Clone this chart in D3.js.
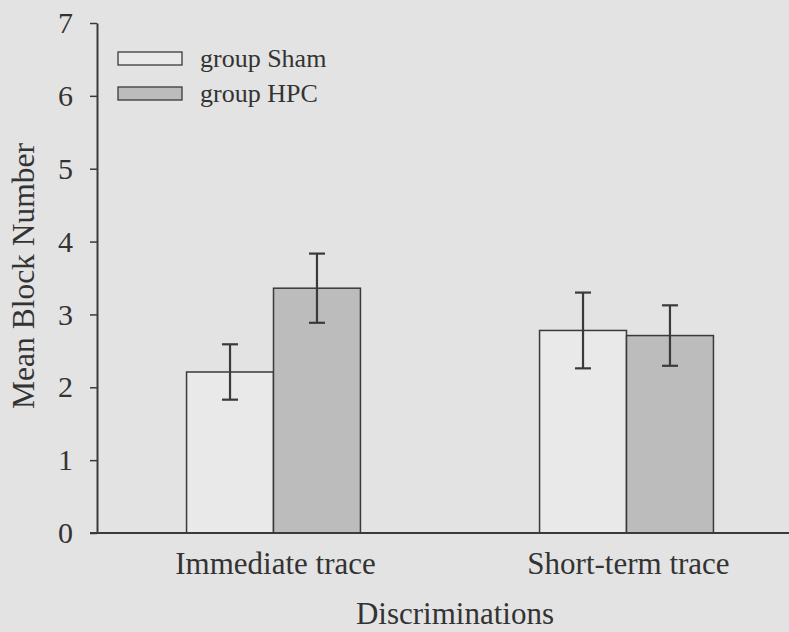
<!DOCTYPE html>
<html>
<head>
<meta charset="utf-8">
<script src="https://cdn.jsdelivr.net/npm/d3@7/dist/d3.min.js"></script>
<style>
  html, body { margin: 0; padding: 0; background: #e3e3e3; }
  svg { display: block; }
  text { font-family: "Liberation Serif", "Times New Roman", serif; fill: #333; }
</style>
</head>
<body>
<svg id="chart" width="789" height="632"></svg>
<script>
const categories = ["Immediate trace", "Short-term trace"];
const groups = ["group Sham", "group HPC"];
const shamMeans = [2.21, 2.78];
const shamErrors = [0.38, 0.52];
const hpcMeans = [3.36, 2.71];
const hpcErrors = [0.475, 0.415];
const yTicks = [0, 1, 2, 3, 4, 5, 6, 7];

const colors = { "group Sham": "#e9e9e9", "group HPC": "#bcbcbc" };
const ink = "#3a3a3a";

const svg = d3.select("#chart");
svg.append("rect").attr("width", 789).attr("height", 632).attr("fill", "#e3e3e3");

const y = d3.scaleLinear().domain([0, 7]).range([533, 23]);
const x0 = d3.scaleBand().domain(categories).range([97, 803]).paddingInner(0).paddingOuter(0);
const x1 = d3.scaleBand().domain(groups).range([0, x0.bandwidth()]).paddingInner(0).paddingOuter(1.03);

const rows = [];
categories.forEach((c, i) => {
  rows.push({ cat: c, grp: groups[0], mean: shamMeans[i], err: shamErrors[i] });
  rows.push({ cat: c, grp: groups[1], mean: hpcMeans[i], err: hpcErrors[i] });
});

// bars
svg.append("g").selectAll("rect").data(rows).join("rect")
  .attr("x", d => x0(d.cat) + x1(d.grp))
  .attr("y", d => y(d.mean))
  .attr("width", x1.bandwidth())
  .attr("height", d => y(0) - y(d.mean))
  .attr("fill", d => colors[d.grp])
  .attr("stroke", ink)
  .attr("stroke-width", 1.5);

// error bars
const eb = svg.append("g").attr("stroke", ink).attr("stroke-width", 2.2);
rows.forEach(d => {
  const cx = x0(d.cat) + x1(d.grp) + x1.bandwidth() / 2;
  eb.append("line").attr("x1", cx).attr("x2", cx).attr("y1", y(d.mean + d.err)).attr("y2", y(d.mean - d.err));
  eb.append("line").attr("x1", cx - 8).attr("x2", cx + 8).attr("y1", y(d.mean + d.err)).attr("y2", y(d.mean + d.err));
  eb.append("line").attr("x1", cx - 8).attr("x2", cx + 8).attr("y1", y(d.mean - d.err)).attr("y2", y(d.mean - d.err));
});

// y axis
const yAxis = d3.axisLeft(y).tickValues(yTicks).tickFormat(d3.format("d")).tickSize(7).tickSizeOuter(0).tickPadding(17);
const gy = svg.append("g").attr("transform", "translate(97,0)").call(yAxis);
gy.select(".domain").attr("stroke", ink).attr("stroke-width", 2);
gy.selectAll(".tick line").attr("stroke", ink).attr("stroke-width", 1.5);
gy.selectAll(".tick text").attr("font-size", 30).attr("fill", "#333")
  .attr("font-family", "'Liberation Serif', 'Times New Roman', serif");

// x axis line
svg.append("line").attr("x1", 90).attr("x2", 789).attr("y1", y(0)).attr("y2", y(0))
  .attr("stroke", ink).attr("stroke-width", 2);

// category labels
svg.append("g").selectAll("text").data(categories).join("text")
  .attr("x", d => x0(d) + x0.bandwidth() / 2 + 2)
  .attr("y", 574)
  .attr("text-anchor", "middle")
  .attr("font-size", 31)
  .text(d => d);

// axis titles
svg.append("text").attr("x", 455).attr("y", 624).attr("text-anchor", "middle")
  .attr("font-size", 31).text("Discriminations");
svg.append("text").attr("transform", "translate(34,276) rotate(-90)").attr("text-anchor", "middle")
  .attr("font-size", 31.5).text("Mean Block Number");

// legend
const lg = svg.append("g");
groups.forEach((g, i) => {
  lg.append("rect").attr("x", 118).attr("y", 52 + i * 35).attr("width", 64).attr("height", 13)
    .attr("fill", colors[g]).attr("stroke", ink).attr("stroke-width", 1.3);
  lg.append("text").attr("x", 200).attr("y", 67 + i * 35).attr("font-size", 26).text(g);
});
</script>
</body>
</html>
